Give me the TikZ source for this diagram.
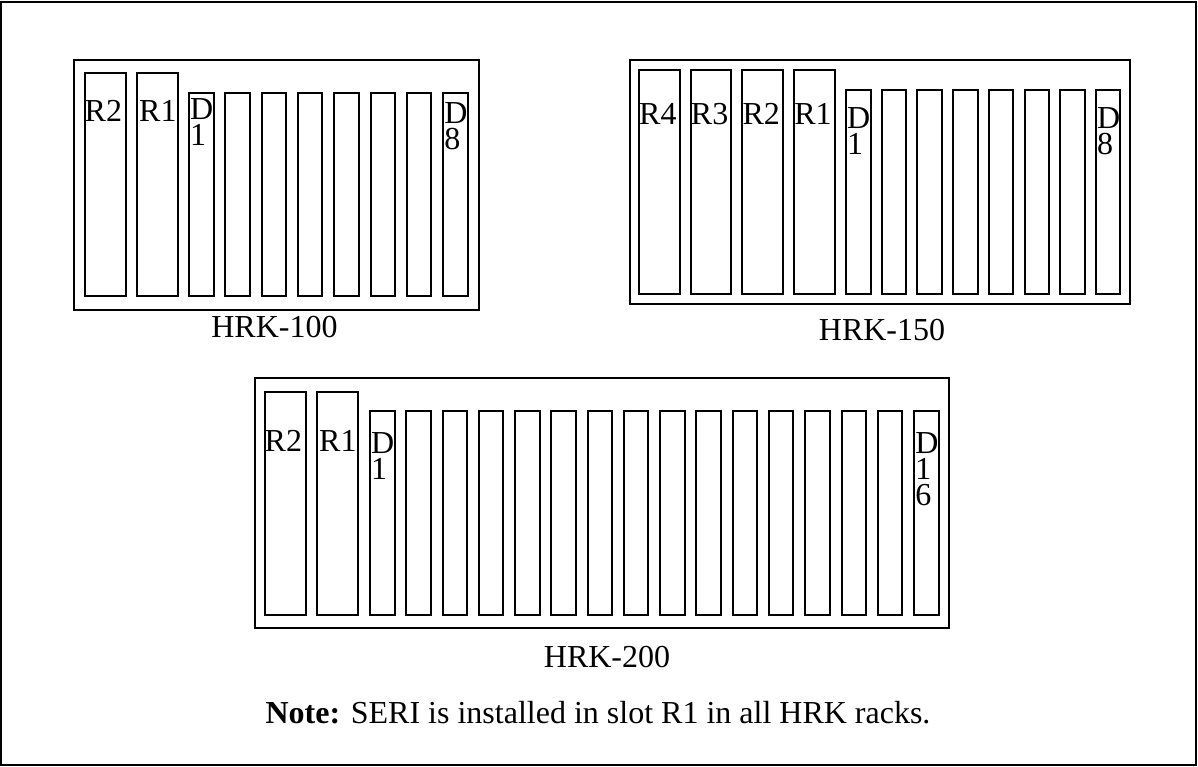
\documentclass[tikz,border=0pt]{standalone}
\usepackage{fontspec}
\setmainfont{Liberation Serif}
\usetikzlibrary{positioning}

\begin{document}
\begin{tikzpicture}[x=1pt, y=-1pt,
    rack/.style={draw, line width=2pt, inner sep=0pt, anchor=north west},
    rslot/.style={draw, line width=2pt, inner sep=0pt, anchor=north west, minimum width=40.5pt},
    dslot/.style={draw, line width=2pt, inner sep=0pt, anchor=north west, minimum width=24.5pt},
    tag/.style={inner sep=0pt, anchor=north west, align=left, font=\fontsize{32}{26}\selectfont},
    caption/.style={inner sep=0pt, anchor=base, font=\fontsize{32}{36}\selectfont},
]
    \useasboundingbox (0,0) rectangle (1198,767);
    \draw[line width=2pt] (1,2) rectangle (1196,765);

    % HRK-100
    \node[rack, minimum width=405pt, minimum height=250pt] (hrk100) at (73,59) {};
    \node[rslot, minimum height=223pt] (a-r2) at (84,72) {};
    \node[rslot, minimum height=223pt] (a-r1) at (136,72) {};
    \foreach \i in {1,...,8}
        \node[dslot, minimum height=203pt] (a-d\i) at ({188+36.3*(\i-1)},92) {};
    \node[tag] (a-t-r2) at ([xshift=0.5pt, yshift=-28pt]a-r2.north west) {R2};
    \node[tag] (a-t-r1) at ([xshift=3pt, yshift=-28pt]a-r1.north west) {R1};
    \node[tag] (a-t-d1) at ([xshift=2pt, yshift=-6pt]a-d1.north west) {D\\1};
    \node[tag] (a-t-d8) at ([xshift=2pt, yshift=-10pt]a-d8.north west) {D\\8};
    \node[caption] (cap100) at (274.5,337) {HRK-100};

    % HRK-150
    \node[rack, minimum width=500pt, minimum height=244pt] (hrk150) at (629,59) {};
    \foreach \n [count=\k] in {4,3,2,1}
        \node[rslot, minimum height=224pt] (b-r\n) at ({638+51.7*(\k-1)},69) {};
    \foreach \i in {1,...,8}
        \node[dslot, minimum height=204pt] (b-d\i) at ({845+35.7*(\i-1)},89) {};
    \foreach \n in {4,3,2,1}
        \node[tag] (b-t-r\n) at ([xshift=1pt, yshift=-34pt]b-r\n.north west) {R\n};
    \node[tag] (b-t-d1) at ([xshift=2pt, yshift=-18pt]b-d1.north west) {D\\1};
    \node[tag] (b-t-d8) at ([xshift=2pt, yshift=-18pt]b-d8.north west) {D\\8};
    \node[caption] (cap150) at (882,340) {HRK-150};

    % HRK-200
    \node[rack, minimum width=694pt, minimum height=250pt] (hrk200) at (254,377) {};
    \node[rslot, minimum height=223pt] (c-r2) at (264,391) {};
    \node[rslot, minimum height=223pt] (c-r1) at (316,391) {};
    \foreach \i in {1,...,16}
        \node[dslot, minimum height=204pt] (c-d\i) at ({369+36.27*(\i-1)},410) {};
    \node[tag] (c-t-r2) at ([xshift=0.5pt, yshift=-39pt]c-r2.north west) {R2};
    \node[tag] (c-t-r1) at ([xshift=3pt, yshift=-39pt]c-r1.north west) {R1};
    \node[tag] (c-t-d1) at ([xshift=2pt, yshift=-22pt]c-d1.north west) {D\\1};
    \node[tag] (c-t-d16) at ([xshift=2pt, yshift=-22pt]c-d16.north west) {D\\1\\6};
    \node[caption] (cap200) at (607,667) {HRK-200};

    \node[caption] (note) at (598,723)
        {\textbf{Note:} SERI is installed in slot R1 in all HRK racks.};
\end{tikzpicture}
\end{document}
